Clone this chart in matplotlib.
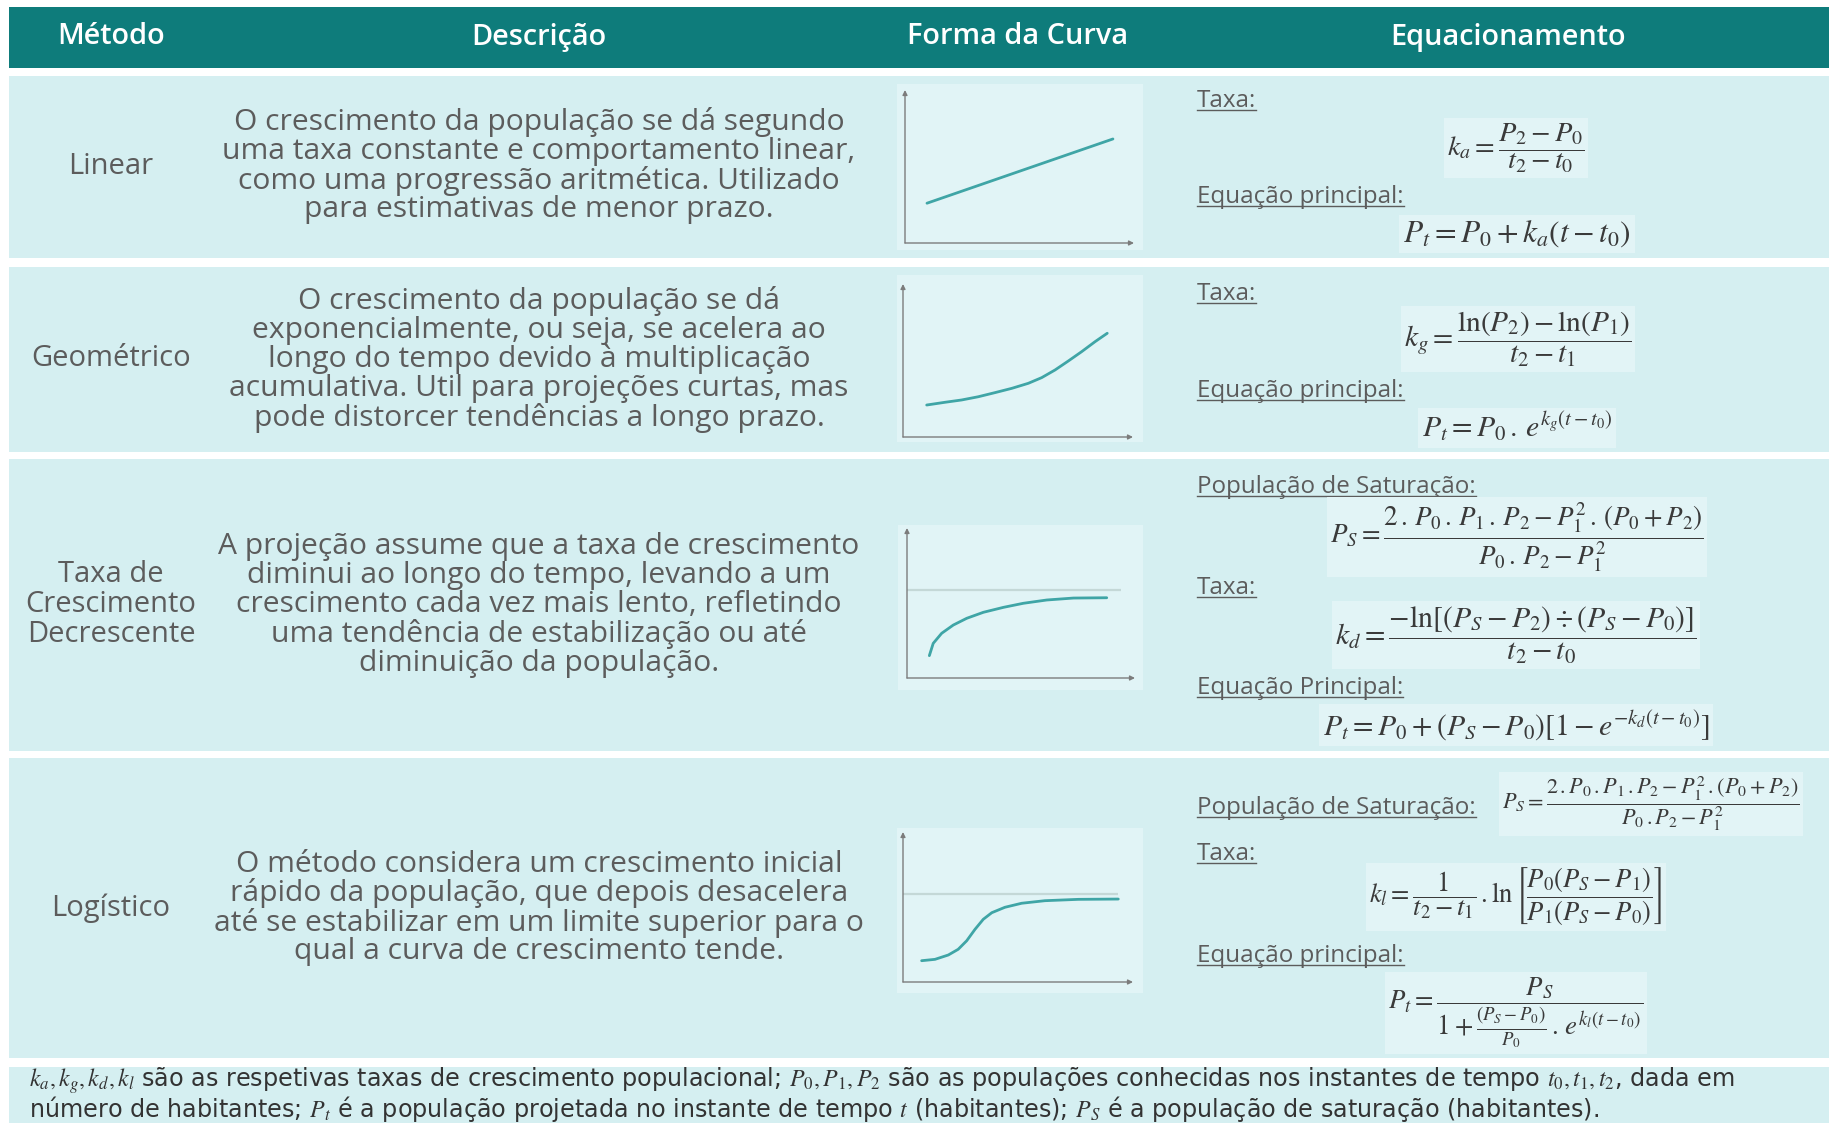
import matplotlib
matplotlib.use("Agg")
import matplotlib.pyplot as plt
from matplotlib.patches import Rectangle
from matplotlib.lines import Line2D

plt.rcParams['font.family'] = ['Open Sans', 'DejaVu Sans']
plt.rcParams['mathtext.fontset'] = 'stix'

W, H, DPI = 1829, 1123, 100

# ---------------- data ----------------
header_labels = ["Método", "Descrição", "Forma da Curva", "Equacionamento"]
methods = [["Linear"], ["Geométrico"], ["Taxa de", "Crescimento", "Decrescente"], ["Logístico"]]
descriptions = [
    ["O crescimento da população se dá segundo",
     "uma taxa constante e comportamento linear,",
     "como uma progressão aritmética. Utilizado",
     "para estimativas de menor prazo."],
    ["O crescimento da população se dá",
     "exponencialmente, ou seja, se acelera ao",
     "longo do tempo devido à multiplicação",
     "acumulativa. Util para projeções curtas, mas",
     "pode distorcer tendências a longo prazo."],
    ["A projeção assume que a taxa de crescimento",
     "diminui ao longo do tempo, levando a um",
     "crescimento cada vez mais lento, refletindo",
     "uma tendência de estabilização ou até",
     "diminuição da população."],
    ["O método considera um crescimento inicial",
     "rápido da população, que depois desacelera",
     "até se estabilizar em um limite superior para o",
     "qual a curva de crescimento tende."],
]

# curve shapes (axis units 0-100)
linear_x = [9.6, 90.8]
linear_y = [26.0, 68.0]
geo_x = [10.3, 18.3, 25.5, 32.7, 40.0, 47.3, 54.5, 60.3, 66.1, 71.9, 77.7, 83.5, 88.8]
geo_y = [20.9, 22.7, 24.2, 26.3, 29.0, 31.8, 35.1, 38.8, 43.8, 49.7, 55.8, 62.3, 67.8]
dec_x = [9.8, 11.5, 15.2, 20.3, 26.2, 33.5, 42.3, 51.0, 61.3, 73.0, 87.6]
dec_y = [14.9, 23.1, 29.8, 35.3, 39.8, 43.8, 47.1, 49.8, 52.0, 53.3, 53.5]
dec_sat_y, dec_sat_end = 58.7, 93.9
log_x = [8.1, 13.9, 19.7, 24.0, 27.7, 31.3, 34.9, 38.6, 44.3, 51.6, 61.7, 76.2, 93.6]
log_y = [14.2, 15.1, 18.0, 21.8, 27.5, 35.1, 41.8, 46.2, 49.8, 52.5, 54.2, 55.1, 55.3]
log_sat_y, log_sat_end = 58.7, 93.5

curves = [(linear_x, linear_y, None, None),
          (geo_x, geo_y, None, None),
          (dec_x, dec_y, dec_sat_y, dec_sat_end),
          (log_x, log_y, log_sat_y, log_sat_end)]

eq_labels = [["Taxa:", "Equação principal:"],
             ["Taxa:", "Equação principal:"],
             ["População de Saturação:", "Taxa:", "Equação Principal:"],
             ["População de Saturação:", "Taxa:", "Equação principal:"]]

equations = [
    [r"$k_a = \dfrac{P_2 - P_0}{t_2 - t_0}$",
     r"$P_t = P_0 + k_a(t - t_0)$"],
    [r"$k_g = \dfrac{\ln(P_2) - \ln(P_1)}{t_2 - t_1}$",
     r"$P_t = P_0\,.\,e^{k_g(t - t_0)}$"],
    [r"$P_S = \dfrac{2\,.\,P_0\,.\,P_1\,.\,P_2 - P_1^2\,.\,(P_0 + P_2)}{P_0\,.\,P_2 - P_1^2}$",
     r"$k_d = \dfrac{-\ln[(P_S - P_2) \div (P_S - P_0)]}{t_2 - t_0}$",
     r"$P_t = P_0 + (P_S - P_0)\left[1 - e^{-k_d(t - t_0)}\right]$"],
    [r"$P_S = \dfrac{2\,.P_0\,.P_1\,.P_2 - P_1^2\,.(P_0 + P_2)}{P_0\,.P_2 - P_1^2}$",
     r"$k_l = \dfrac{1}{t_2 - t_1}\,.\ln\left[\dfrac{P_0(P_S - P_1)}{P_1(P_S - P_0)}\right]$",
     r"$P_t = \dfrac{P_S}{1 + \frac{(P_S - P_0)}{P_0}\,.\,e^{k_l(t - t_0)}}$"],
]

footer_lines = [
    r"$k_a, k_g, k_d, k_l$ são as respetivas taxas de crescimento populacional; $P_0, P_1, P_2$ são as populações conhecidas nos instantes de tempo $t_0, t_1, t_2$, dada em",
    r"número de habitantes; $P_t$ é a população projetada no instante de tempo $t$ (habitantes); $P_S$ é a população de saturação (habitantes).",
]

# ---------------- layout (pixels) ----------------
TEAL = "#0E7C7B"
ROW_BG = "#D5EFF1"
BOX_BG = "#E1F4F6"
EQ_BG = "#E2F4F6"
TXT = "#5C5C5C"
EQ_TXT = "#3A3A3A"
CURVE = "#3FA5A6"
AXCOL = "#7C7C7C"
SATCOL = "#C4D8D7"

header_y = (7, 68)
rows_y = [(76, 258), (267, 452), (459, 751), (758, 1058)]
footer_y = (1067, 1130)
left_x = 9
col_x = [111, 539, 1018, 1508]

method_y = [[166], [358], [574, 604.5, 635], [908]]
desc_center = [166, 359.5, 605, 908]
line_gap = 29.3

boxes = [(897, 84, 1143, 250), (897, 275, 1143, 442), (898, 525, 1143, 690), (897, 828, 1143, 993)]
axes_px = [(905, 90, 1134, 243), (903, 284, 1133, 437), (907, 528, 1135, 678), (903, 832, 1133, 982)]

label_x = 1197
label_base = [[107, 203], [300, 397], [493, 594, 694], [814, 860, 962]]
eq_pos = [[(1516, 148), (1517, 234)],
          [(1518, 339), (1517, 428)],
          [(1517, 537), (1516, 635), (1516, 725)],
          [(1651, 804), (1516, 897), (1516, 1013)]]
eq_w = [[138, 227], [228, 190], [373, 361, 386], [297, 292, 255]]

fig = plt.figure(figsize=(W / DPI, H / DPI), dpi=DPI)
fig.patch.set_facecolor("white")
ax = fig.add_axes([0, 0, 1, 1])
ax.set_xlim(0, W)
ax.set_ylim(H, 0)
ax.axis("off")
renderer = fig.canvas.get_renderer()


def fit_size(text, target, base=20, **kw):
    t = ax.text(0, 0, text, fontsize=base, **kw)
    w = t.get_window_extent(renderer).width
    t.remove()
    return base * target / w


# backgrounds
ax.add_patch(Rectangle((left_x, header_y[0]), W + 10 - left_x, header_y[1] - header_y[0], fc=TEAL, ec="none"))
for (y0, y1) in rows_y:
    ax.add_patch(Rectangle((left_x, y0), W + 10 - left_x, y1 - y0, fc=ROW_BG, ec="none"))
ax.add_patch(Rectangle((left_x, footer_y[0]), W + 10 - left_x, footer_y[1] - footer_y[0], fc=ROW_BG, ec="none"))
for (x0, y0, x1, y1) in boxes:
    ax.add_patch(Rectangle((x0, y0), x1 - x0, y1 - y0, fc=BOX_BG, ec="none"))

# header
hs = fit_size("Equacionamento", 235, fontweight="semibold")
for lab, cx in zip(header_labels, col_x):
    ax.text(cx, 37, lab, color="white", fontsize=hs, fontweight="semibold", ha="center", va="center")

# methods
ms = fit_size("Crescimento", 170)
for lines, ys in zip(methods, method_y):
    for ln, y in zip(lines, ys):
        ax.text(col_x[0], y, ln, color=TXT, fontsize=ms, ha="center", va="center")

# descriptions
ds = fit_size(descriptions[0][0], 609)
for lines, yc in zip(descriptions, desc_center):
    n = len(lines)
    for i, ln in enumerate(lines):
        y = yc + (i - (n - 1) / 2) * line_gap
        ax.text(col_x[1], y, ln, color=TXT, fontsize=ds, ha="center", va="center")

# labels with underline
ls = fit_size("Equação principal:", 206)
for labs, bases in zip(eq_labels, label_base):
    for lab, yb in zip(labs, bases):
        t = ax.text(label_x, yb, lab, color=TXT, fontsize=ls, ha="left", va="baseline")
        bb = t.get_window_extent(renderer)
        inv = ax.transData.inverted()
        (xa, _), (xb, _) = inv.transform([(bb.x0, bb.y0), (bb.x1, bb.y0)])
        ax.add_line(Line2D([xa, xb], [yb + 3, yb + 3], color=TXT, lw=1.0))

# equations
for eqs, poss, ws in zip(equations, eq_pos, eq_w):
    for eq, (cx, cy), w in zip(eqs, poss, ws):
        s = fit_size(eq, w)
        ax.text(cx, cy, eq, color=EQ_TXT, fontsize=s, ha="center", va="center",
                bbox=dict(boxstyle="square,pad=0.12", fc=EQ_BG, ec="none"))

# footer (wide face so the reference width fits in the tight line pitch)
FOOT_FAM = ['DejaVu Sans']
fs = fit_size(footer_lines[1], 1570, family=FOOT_FAM)
for ln, yb in zip(footer_lines, [1087, 1117]):
    ax.text(29, yb, ln, color="#333333", fontsize=fs, family=FOOT_FAM, ha="left", va="baseline")

# curve sketches
for (cx_, cy_, sat, sat_end), (x0, y0, x1, y1) in zip(curves, axes_px):
    a = fig.add_axes([x0 / W, 1 - y1 / H, (x1 - x0) / W, (y1 - y0) / H])
    a.set_xlim(0, 100)
    a.set_ylim(0, 100)
    a.axis("off")
    a.patch.set_alpha(0)
    if sat is not None:
        a.plot([0, sat_end], [sat, sat], color=SATCOL, lw=1.6, solid_capstyle="butt")
    a.plot(cx_, cy_, color=CURVE, lw=2.0, solid_capstyle="round", solid_joinstyle="round")
    a.annotate("", xy=(100, 0), xytext=(0, 0),
               arrowprops=dict(arrowstyle="-|>", color=AXCOL, lw=1.0, mutation_scale=7,
                               shrinkA=0, shrinkB=0), annotation_clip=False)
    a.annotate("", xy=(0, 100), xytext=(0, 0),
               arrowprops=dict(arrowstyle="-|>", color=AXCOL, lw=1.0, mutation_scale=7,
                               shrinkA=0, shrinkB=0), annotation_clip=False)

fig.savefig("out.png", dpi=DPI, facecolor="white")
